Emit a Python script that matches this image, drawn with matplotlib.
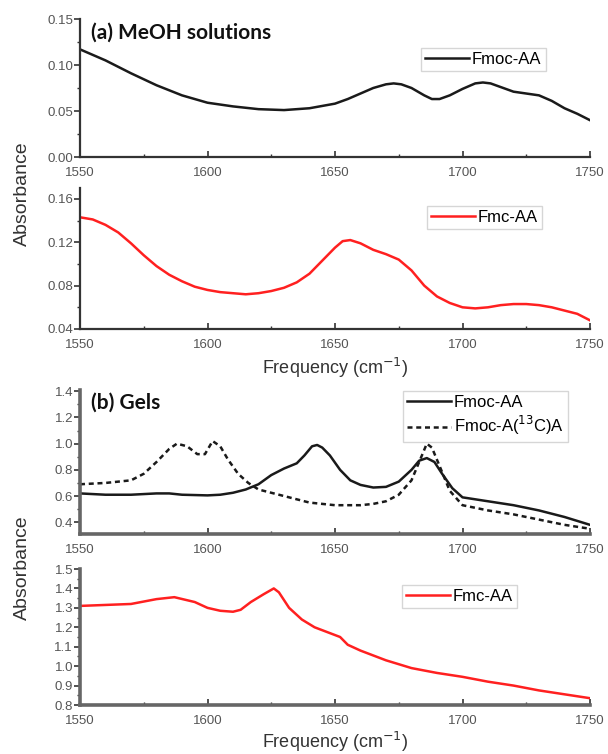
import matplotlib
matplotlib.use('Agg')
import matplotlib.pyplot as plt
from matplotlib.ticker import MultipleLocator

plt.rcParams['font.family'] = ['Liberation Sans', 'DejaVu Sans']

# (a) MeOH solutions, Fmoc-AA
a_black_x = [1550, 1560, 1570, 1580, 1590, 1600, 1610, 1620, 1630, 1640, 1650, 1655, 1660,
             1665, 1670, 1673, 1676, 1680, 1685, 1688, 1691, 1695, 1700, 1705, 1708, 1711,
             1715, 1720, 1725, 1730, 1735, 1740, 1745, 1750]
a_black_y = [0.117, 0.105, 0.091, 0.078, 0.067, 0.059, 0.055, 0.052, 0.051, 0.053, 0.058,
             0.063, 0.069, 0.075, 0.079, 0.080, 0.079, 0.075, 0.067, 0.063, 0.063, 0.067,
             0.074, 0.080, 0.081, 0.080, 0.076, 0.071, 0.069, 0.067, 0.061, 0.053, 0.047,
             0.040]

# (a) MeOH solutions, Fmc-AA
a_red_x = [1550, 1555, 1560, 1565, 1570, 1575, 1580, 1585, 1590, 1595, 1600, 1605, 1610,
           1615, 1620, 1625, 1630, 1635, 1640, 1645, 1650, 1653, 1656, 1660, 1665, 1670,
           1675, 1680, 1685, 1690, 1695, 1700, 1705, 1710, 1715, 1720, 1725, 1730, 1735,
           1740, 1745, 1750]
a_red_y = [0.143, 0.141, 0.136, 0.129, 0.119, 0.108, 0.098, 0.090, 0.084, 0.079, 0.076,
           0.074, 0.073, 0.072, 0.073, 0.075, 0.078, 0.083, 0.091, 0.103, 0.115, 0.121,
           0.122, 0.119, 0.113, 0.109, 0.104, 0.094, 0.080, 0.070, 0.064, 0.060, 0.059,
           0.060, 0.062, 0.063, 0.063, 0.062, 0.060, 0.057, 0.054, 0.048]

# (b) Gels, Fmoc-AA
b_black_x = [1550, 1560, 1570, 1580, 1585, 1590, 1600, 1605, 1610, 1615, 1620, 1625, 1630,
             1635, 1638, 1641, 1643, 1645, 1648, 1652, 1656, 1660, 1665, 1670, 1675, 1680,
             1683, 1686, 1689, 1692, 1696, 1700, 1710, 1720, 1730, 1740, 1750]
b_black_y = [0.62, 0.61, 0.61, 0.62, 0.62, 0.61, 0.605, 0.61, 0.625, 0.65, 0.69, 0.76, 0.81,
             0.85, 0.91, 0.98, 0.99, 0.97, 0.91, 0.80, 0.72, 0.685, 0.665, 0.67, 0.71, 0.80,
             0.87, 0.89, 0.86, 0.77, 0.66, 0.59, 0.56, 0.53, 0.49, 0.44, 0.38]

# (b) Gels, Fmoc-A(13C)A
b_dash_x = [1550, 1560, 1570, 1575, 1580, 1585, 1588, 1592, 1596, 1599, 1602, 1605, 1608,
            1612, 1616, 1620, 1630, 1640, 1650, 1660, 1665, 1670, 1675, 1680, 1683, 1686,
            1688, 1691, 1695, 1700, 1710, 1720, 1730, 1740, 1750]
b_dash_y = [0.69, 0.70, 0.72, 0.77, 0.86, 0.96, 1.00, 0.98, 0.92, 0.92, 1.02, 0.98, 0.88,
            0.77, 0.70, 0.65, 0.60, 0.55, 0.53, 0.53, 0.54, 0.56, 0.61, 0.72, 0.86, 1.00,
            0.97, 0.83, 0.64, 0.53, 0.49, 0.46, 0.42, 0.38, 0.35]

# (b) Gels, Fmc-AA
b_red_x = [1550, 1560, 1570, 1580, 1587, 1595, 1600, 1605, 1610, 1613, 1617, 1622, 1626,
           1628, 1632, 1637, 1642, 1648, 1652, 1655, 1660, 1670, 1680, 1690, 1700, 1710,
           1720, 1730, 1740, 1750]
b_red_y = [1.31, 1.315, 1.32, 1.345, 1.355, 1.33, 1.30, 1.285, 1.28, 1.29, 1.33, 1.37, 1.40,
           1.38, 1.30, 1.24, 1.20, 1.17, 1.15, 1.11, 1.08, 1.03, 0.99, 0.965, 0.945, 0.92,
           0.90, 0.875, 0.855, 0.835]

xticks = [1550, 1600, 1650, 1700, 1750]

fig = plt.figure(figsize=(6.08, 7.54), dpi=100)
W, H = 608.0, 754.0


def make_ax(top, bottom):
    return fig.add_axes([80 / W, 1 - bottom / H, 510 / W, (bottom - top) / H])


def style(ax, ylim, major, minor, fmt, spine_lw=1.6, spine_c='#333333'):
    ax.set_xlim(1550, 1750)
    ax.set_ylim(*ylim)
    ax.set_xticks(xticks)
    ax.xaxis.set_minor_locator(MultipleLocator(25))
    ax.yaxis.set_major_locator(MultipleLocator(major))
    ax.yaxis.set_minor_locator(MultipleLocator(minor))
    ax.yaxis.set_major_formatter(plt.FormatStrFormatter(fmt))
    for s in ['top', 'right']:
        ax.spines[s].set_visible(False)
    for s in ['left', 'bottom']:
        ax.spines[s].set_color(spine_c)
        ax.spines[s].set_linewidth(spine_lw)
    ax.tick_params(axis='both', which='major', length=4, width=1.2, colors='#333333',
                   labelcolor='#555555', labelsize=9.5)
    ax.tick_params(axis='both', which='minor', length=2.5, width=1.0, colors='#333333')
    ax.tick_params(axis='x', which='both', direction='in', pad=7)
    ax.tick_params(axis='y', which='both', direction='out', pad=1)
    ax.patch.set_alpha(0)


leg_kw = dict(frameon=True, fancybox=False, edgecolor='#cccccc', fontsize=12,
              handlelength=2.6, handletextpad=0.2, borderpad=0.25, labelspacing=0.25,
              loc='upper left', bbox_transform=fig.transFigure, borderaxespad=0)


def anchor(x, y):
    return (x / W, 1 - y / H)


ax1 = make_ax(19, 157)
ax1.plot(a_black_x, a_black_y, color='#1a1a1a', lw=1.8, label='Fmoc-AA')
style(ax1, (0, 0.15), 0.05, 0.025, '%.2f')
ax1.legend(bbox_to_anchor=anchor(421, 48), **leg_kw)
fig.text(91 / W, 1 - 33 / H, '(a) MeOH solutions', fontsize=15, fontweight='bold',
         family='Lato', va='center', color='#111111')

ax2 = make_ax(188, 329)
ax2.plot(a_red_x, a_red_y, color='#ff2020', lw=1.8, label='Fmc-AA')
style(ax2, (0.04, 0.17), 0.04, 0.02, '%.2f')
ax2.legend(bbox_to_anchor=anchor(427, 206), **leg_kw)
fig.text(335 / W, 1 - 368 / H, 'Frequency (cm$^{-1}$)', fontsize=13, color='#333333',
         ha='center', va='center')

ax3 = make_ax(390, 534)
ax3.plot(b_black_x, b_black_y, color='#1a1a1a', lw=1.8, label='Fmoc-AA')
ax3.plot(b_dash_x, b_dash_y, color='#1a1a1a', lw=1.8, ls=(0, (2, 1.5)),
         label='Fmoc-A($^{13}$C)A')
style(ax3, (0.31, 1.41), 0.2, 0.1, '%.1f', spine_lw=2.6, spine_c='#666666')
ax3.legend(bbox_to_anchor=anchor(403, 391), **leg_kw)
fig.text(91 / W, 1 - 403 / H, '(b) Gels', fontsize=15, fontweight='bold',
         family='Lato', va='center', color='#111111')

ax4 = make_ax(569, 705)
ax4.plot(b_red_x, b_red_y, color='#ff2020', lw=1.8, label='Fmc-AA')
style(ax4, (0.8, 1.5), 0.1, 0.05, '%.1f', spine_lw=2.6, spine_c='#666666')
ax4.legend(bbox_to_anchor=anchor(402, 585), **leg_kw)
fig.text(335 / W, 1 - 742 / H, 'Frequency (cm$^{-1}$)', fontsize=13, color='#333333',
         ha='center', va='center')

fig.text(22 / W, 1 - 194 / H, 'Absorbance', rotation=90, fontsize=14, color='#333333',
         ha='center', va='center')
fig.text(22 / W, 1 - 568 / H, 'Absorbance', rotation=90, fontsize=14, color='#333333',
         ha='center', va='center')

fig.savefig('out.png', dpi=100)
